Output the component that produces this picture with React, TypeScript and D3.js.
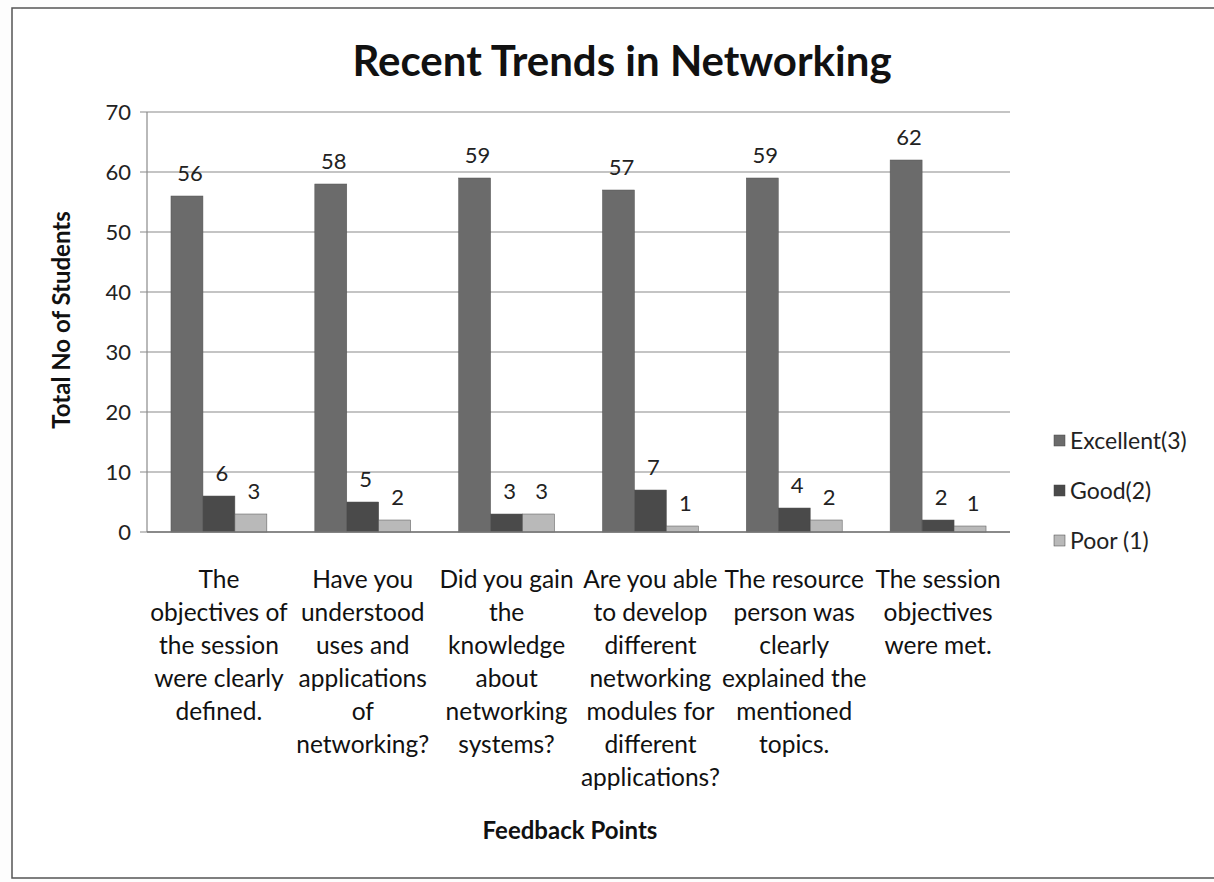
import React from "react";
import * as d3 from "d3";

const categories: string[][] = [
  ["The", "objectives of", "the session", "were clearly", "defined."],
  ["Have you", "understood", "uses and", "applications", "of", "networking?"],
  ["Did you gain", "the", "knowledge", "about", "networking", "systems?"],
  ["Are you able", "to develop", "different", "networking", "modules for", "different", "applications?"],
  ["The resource", "person was", "clearly", "explained the", "mentioned", "topics."],
  ["The session", "objectives", "were met."],
];
const seriesNames = ["Excellent(3)", "Good(2)", "Poor (1)"];
const excellent = [56, 58, 59, 57, 59, 62];
const good = [6, 5, 3, 7, 4, 2];
const poor = [3, 2, 3, 1, 2, 1];
const yTicks = [0, 10, 20, 30, 40, 50, 60, 70];
const colors = ["#6b6b6b", "#4a4a4a", "#b9b9b9"];

export default function App() {
  const W = 1214, H = 882;
  const left = 147, right = 1010, top = 112, bottom = 532;
  const font = "Lato, 'Open Sans', sans-serif";
  const x = d3.scaleBand<number>().domain(d3.range(categories.length)).range([left, right]).paddingInner(0).paddingOuter(0);
  const x1 = d3.scaleBand<number>().domain([0, 1, 2]).range([0, x.bandwidth()]).paddingOuter(0.75).paddingInner(0);
  const y = d3.scaleLinear().domain([0, 70]).range([bottom, top]);
  const series = [excellent, good, poor];

  return (
    <svg width={W} height={H} style={{ position: "absolute", left: 0, top: 0, background: "#fff" }} fontFamily={font}>
      <rect x={0} y={0} width={W} height={H} fill="#fdfdfd" />
      <rect x={12} y={8} width={W + 10} height={870} fill="#fff" stroke="#555" strokeWidth={1.5} />
      <text x={622} y={76} textAnchor="middle" fontSize={42} fontWeight="bold" fill="#111">Recent Trends in Networking</text>
      {yTicks.map((t) => (
        <g key={t}>
          <line x1={left - 7} x2={right} y1={y(t)} y2={y(t)} stroke="#8a8a8a" strokeWidth={1.2} />
          <text x={131} y={y(t) + 8} textAnchor="end" fontSize={22} fill="#222">{t}</text>
        </g>
      ))}
      <line x1={left} x2={left} y1={top} y2={bottom} stroke="#8a8a8a" strokeWidth={1.2} />
      {series.map((vals, si) =>
        vals.map((v, ci) => {
          const bx = (x(ci) as number) + (x1(si) as number);
          return (
            <g key={`${si}-${ci}`}>
              <rect x={bx} y={y(v)} width={x1.bandwidth()} height={bottom - y(v)} fill={colors[si]} stroke="#555" strokeWidth={0.5} />
              <text x={bx + x1.bandwidth() / 2 + 3} y={y(v) - 15} textAnchor="middle" fontSize={22} fill="#222">{v}</text>
            </g>
          );
        })
      )}
      <line x1={left} x2={right} y1={bottom} y2={bottom} stroke="#777" strokeWidth={1.5} />
      {categories.map((lines, ci) => (
        <text key={ci} textAnchor="middle" fontSize={24.5} fill="#111">
          {lines.map((l, li) => (
            <tspan key={li} x={(x(ci) as number) + x.bandwidth() / 2} y={588 + li * 33}>{l}</tspan>
          ))}
        </text>
      ))}
      <text x={570} y={839} textAnchor="middle" fontSize={24} fontWeight="bold" fill="#111">Feedback Points</text>
      <text transform={`translate(70,${320}) rotate(-90)`} textAnchor="middle" fontSize={24} fontWeight="bold" fill="#111">Total No of Students</text>
      {seriesNames.map((n, i) => (
        <g key={n} transform={`translate(1054,${441 + i * 50})`}>
          <rect x={0} y={-6} width={11} height={11} fill={colors[i]} stroke="#444" strokeWidth={0.5} />
          <text x={16} y={8} fontSize={23} fill="#222">{n}</text>
        </g>
      ))}
    </svg>
  );
}
